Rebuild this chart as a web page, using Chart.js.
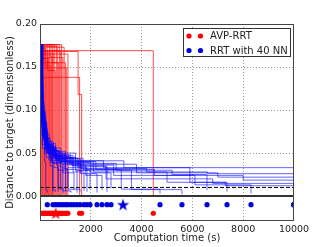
<!DOCTYPE html>
<html>
<head>
<meta charset="utf-8">
<script src="https://cdn.jsdelivr.net/npm/chart.js@4.4.1/dist/chart.umd.min.js"></script>
<style>
  html, body { margin: 0; padding: 0; background: #fff; }
  canvas { display: block; }
</style>
</head>
<body>
<canvas id="chart" width="327" height="247"></canvas>
<script>
// each run is a list of [computation time (s), distance] steps
const redRuns = [
    [[0, .176], [40, 0]],
    [[0, .176], [70, 0]],
    [[0, .176], [25, .170], [100, 0]],
    [[0, .176], [130, 0]],
    [[0, .176], [30, .165], [160, 0]],
    [[0, .176], [190, 0]],
    [[0, .176], [20, .172], [220, 0]],
    [[0, .176], [60, .158], [250, 0]],
    [[0, .176], [280, 0]],
    [[0, .176], [40, .168], [310, 0]],
    [[0, .176], [90, .160], [340, 0]],
    [[0, .176], [370, 0]],
    [[0, .176], [30, .152], [400, 0]],
    [[0, .176], [430, 0]],
    [[0, .176], [50, .171], [200, .163], [460, 0]],
    [[0, .176], [490, 0]],
    [[0, .176], [35, .166], [520, 0]],
    [[0, .176], [560, 0]],
    [[0, .176], [80, .160], [300, .146], [600, 0]],
    [[0, .176], [640, 0]],
    [[0, .176], [25, .174], [680, 0]],
    [[0, .176], [45, .155], [720, 0]],
    [[0, .176], [760, 0]],
    [[0, .176], [30, .169], [800, 0]],
    [[0, .176], [850, 0]],
    [[0, .176], [60, .161], [900, 0]],
    [[0, .176], [20, .173], [950, 0]],
    [[0, .176], [100, .155], [1000, 0]],
    [[0, .176], [40, .149], [1050, 0]],
    [[0, .176], [30, .165], [1100, 0]],
    [[0, .176], [50, .138], [1560, 0]],
    [[0, .176], [70, .168], [1500, .118], [1640, 0]],
    [[0, .176], [30, .169], [4460, 0]]
];

const blueRuns = [
    [[0, .176], [30, .100], [80, .060], [180, .040], [230, .007], [287, .004]],
    [[0, .176], [50, .120], [120, .070], [250, .045], [400, .035], [512, .004]],
    [[0, .176], [20, .090], [100, .055], [300, .050], [450, .040], [500, .007], [610, .005]],
    [[0, .176], [70, .080], [200, .060], [350, .042], [550, .033], [709, .005]],
    [[0, .176], [40, .110], [150, .065], [280, .050], [500, .038], [807, .007]],
    [[0, .176], [90, .075], [220, .052], [420, .045], [650, .036], [720, .009], [906, .003]],
    [[0, .176], [30, .140], [110, .070], [300, .058], [600, .041], [1004, .006]],
    [[0, .176], [60, .095], [180, .060], [380, .044], [700, .030], [1102, .009]],
    [[0, .176], [120, .085], [260, .057], [480, .046], [800, .034], [900, .006], [1220, .004]],
    [[0, .176], [80, .070], [190, .050], [420, .039], [900, .027], [1339, .007]],
    [[0, .176], [45, .100], [160, .062], [350, .048], [720, .040], [1000, .031], [1457, .004]],
    [[0, .176], [100, .080], [240, .055], [560, .043], [950, .032], [1100, .008], [1575, .005]],
    [[0, .176], [55, .090], [210, .058], [400, .047], [850, .037], [1300, .028], [1732, .006]],
    [[0, .176], [75, .105], [170, .068], [330, .050], [640, .042], [1100, .033], [1850, .005]],
    [[0, .176], [35, .120], [140, .066], [310, .053], [760, .045], [1400, .030], [1969, .008]],
    [[0, .176], [65, .088], [230, .060], [520, .049], [980, .038], [1600, .026], [2244, .004]],
    [[0, .176], [95, .078], [270, .054], [600, .046], [1150, .036], [1800, .024], [2441, .007]],
    [[0, .176], [25, .130], [130, .072], [360, .056], [820, .044], [1500, .034], [2638, .005]],
    [[0, .176], [85, .082], [250, .059], [470, .047], [1050, .039], [2000, .027], [2795, .009]],
    [[0, .176], [40, .092], [200, .064], [450, .050], [900, .040], [2200, .031], [3200, .008], [4724, .003]],
    [[0, .176], [110, .076], [290, .053], [700, .044], [1300, .035], [2600, .020], [3600, .0075], [5590, .002]],
    [[0, .176], [50, .100], [180, .063], [530, .048], [1200, .038], [3000, .030], [5200, .025], [6575, .007]],
    [[0, .176], [70, .086], [260, .061], [620, .050], [1400, .041], [3300, .033], [5900, .016], [7362, .005]],
    [[0, .176], [60, .094], [230, .056], [580, .045], [1250, .036], [2900, .024], [6100, .013], [8307, .003]],
    [[0, .176], [30, .110], [150, .067], [400, .052], [1000, .041], [2500, .033], [10000, .030]],
    [[0, .176], [90, .080], [280, .055], [650, .043], [1600, .032], [4200, .028], [6600, .026], [10000, .026]],
    [[0, .176], [45, .098], [210, .060], [500, .047], [1300, .037], [3800, .027], [7000, .022], [10000, .022]],
    [[0, .176], [75, .084], [240, .057], [600, .044], [1700, .031], [4500, .024], [8000, .0185], [10000, .0185]],
    [[0, .176], [55, .090], [190, .058], [480, .041], [1500, .030], [3600, .020], [6800, .0147], [10000, .0147]],
    [[0, .176], [100, .075], [300, .052], [760, .040], [2100, .028], [5000, .016], [7300, .012], [10000, .012]]
];

// mean computation times (stars)
const redMean = 620;
const blueMean = 3270;

// rows where the finishing times are plotted, and the target threshold
const redDotLevel = -0.02;
const blueDotLevel = -0.01;
const targetLevel = 0.01;

const xTicks = [0, 2000, 4000, 6000, 8000, 10000];
const yTicks = [0, 0.05, 0.10, 0.15, 0.20];

const FONT = 'DejaVu Sans';
const RED = '#ff0000';
const BLUE = '#0000dd';

function toPoints(run) {
    return run.map(p => ({ x: p[0], y: p[1] }));
}

function makeStar(fill, size) {
    const c = document.createElement('canvas');
    c.width = size;
    c.height = size;
    const g = c.getContext('2d');
    const cx = size / 2, cy = size / 2 + 0.5;
    const R = size / 2 - 0.5, r = R * 0.39;
    g.beginPath();
    for (let i = 0; i < 10; i++) {
        const a = -Math.PI / 2 + i * Math.PI / 5;
        const rad = i % 2 ? r : R;
        g.lineTo(cx + rad * Math.cos(a), cy + rad * Math.sin(a));
    }
    g.closePath();
    g.fillStyle = fill;
    g.fill();
    return c;
}

const datasets = [];

// finishing times + means
datasets.push({
    data: redRuns.map(r => ({ x: r[r.length - 1][0], y: redDotLevel })),
    showLine: false, pointRadius: 2.6, pointBackgroundColor: RED, pointBorderWidth: 0, order: 0
});
datasets.push({
    data: blueRuns.map(r => ({ x: r[r.length - 1][0], y: blueDotLevel })),
    showLine: false, pointRadius: 2.6, pointBackgroundColor: BLUE, pointBorderWidth: 0, order: 0
});
datasets.push({
    data: [{ x: redMean, y: redDotLevel }],
    showLine: false, pointStyle: makeStar(RED, 14), order: 0
});
datasets.push({
    data: [{ x: blueMean, y: blueDotLevel }],
    showLine: false, pointStyle: makeStar(BLUE, 14), order: 0
});

// zero line and target threshold
datasets.push({
    data: [{ x: xTicks[0], y: 0 }, { x: xTicks[xTicks.length - 1], y: 0 }],
    borderColor: '#333', borderWidth: 2, pointRadius: 0, order: 1
});
datasets.push({
    data: [{ x: xTicks[0], y: targetLevel }, { x: xTicks[xTicks.length - 1], y: targetLevel }],
    borderColor: '#000', borderWidth: 1, borderDash: [4, 2], pointRadius: 0, order: 1
});

blueRuns.forEach(run => datasets.push({
    data: toPoints(run), stepped: 'before', borderColor: 'rgba(0,0,255,0.6)',
    borderWidth: 1, pointRadius: 0, order: 2
}));
redRuns.forEach(run => datasets.push({
    data: toPoints(run), stepped: 'before', borderColor: 'rgba(255,0,0,0.7)',
    borderWidth: 1, pointRadius: 0, order: 3
}));

const frameAndLegend = {
    id: 'frameAndLegend',
    afterDraw(chart) {
        const { ctx, chartArea } = chart;
        ctx.save();
        ctx.strokeStyle = '#444';
        ctx.lineWidth = 1;
        ctx.strokeRect(Math.round(chartArea.left) + 0.5, Math.round(chartArea.top) + 0.5,
            Math.round(chartArea.right - chartArea.left) - 1, Math.round(chartArea.bottom - chartArea.top) - 1);

        const w = 107, h = 28;
        const x0 = Math.round(chartArea.right) - 4 - w, y0 = Math.round(chartArea.top) + 4;
        ctx.fillStyle = '#fff';
        ctx.fillRect(x0, y0, w, h);
        ctx.strokeStyle = '#333';
        ctx.strokeRect(x0 + 0.5, y0 + 0.5, w, h);
        const entries = [['AVP-RRT', RED], ['RRT with 40 NN', BLUE]];
        ctx.font = '10px "' + FONT + '"';
        ctx.textBaseline = 'middle';
        entries.forEach((e, i) => {
            const y = y0 + 8 + i * 14.5;
            ctx.fillStyle = e[1];
            [6, 17.5].forEach(dx => {
                ctx.beginPath();
                ctx.arc(x0 + dx, y, 2.6, 0, Math.PI * 2);
                ctx.fill();
            });
            ctx.fillStyle = '#222';
            ctx.fillText(e[0], x0 + 27, y + 0.5);
        });
        ctx.restore();
    }
};

new Chart(document.getElementById('chart'), {
    type: 'line',
    data: { datasets },
    options: {
        responsive: false,
        animation: false,
        events: [],
        layout: { padding: { top: 24, right: 33, left: 0, bottom: 0 } },
        plugins: { legend: { display: false }, tooltip: { enabled: false } },
        scales: {
            x: {
                type: 'linear',
                min: 0,
                max: 10000,
                afterBuildTicks: s => { s.ticks = xTicks.map(v => ({ value: v })); },
                afterFit: s => { s.height = 26; },
                ticks: {
                    callback: v => (v === 0 ? '' : String(v)),
                    font: { family: FONT, size: 9.5 },
                    color: '#222',
                    padding: 3,
                    maxRotation: 0
                },
                grid: {
                    drawTicks: false,
                    color: c => (c.tick && (c.tick.value === 0 || c.tick.value === 10000) ? 'rgba(0,0,0,0)' : '#999')
                },
                border: { display: false, dash: [1, 2] },
                title: {
                    display: true,
                    text: 'Computation time (s)',
                    font: { family: FONT, size: 10 },
                    color: '#222',
                    padding: { top: 0, bottom: 3 }
                }
            },
            y: {
                type: 'linear',
                min: -0.029,
                max: 0.2,
                afterBuildTicks: s => { s.ticks = yTicks.map(v => ({ value: v })); },
                afterFit: s => { s.width = 40; },
                ticks: {
                    callback: v => v.toFixed(2),
                    font: { family: FONT, size: 9.5 },
                    color: '#222',
                    padding: 3
                },
                grid: {
                    drawTicks: false,
                    color: c => (c.tick && (c.tick.value === 0 || c.tick.value === 0.2) ? 'rgba(0,0,0,0)' : '#999')
                },
                border: { display: false, dash: [1, 2] },
                title: {
                    display: true,
                    text: 'Distance to target (dimensionless)',
                    font: { family: FONT, size: 10 },
                    color: '#222',
                    padding: { top: 4, bottom: 0 }
                }
            }
        }
    },
    plugins: [frameAndLegend]
});
</script>
</body>
</html>
